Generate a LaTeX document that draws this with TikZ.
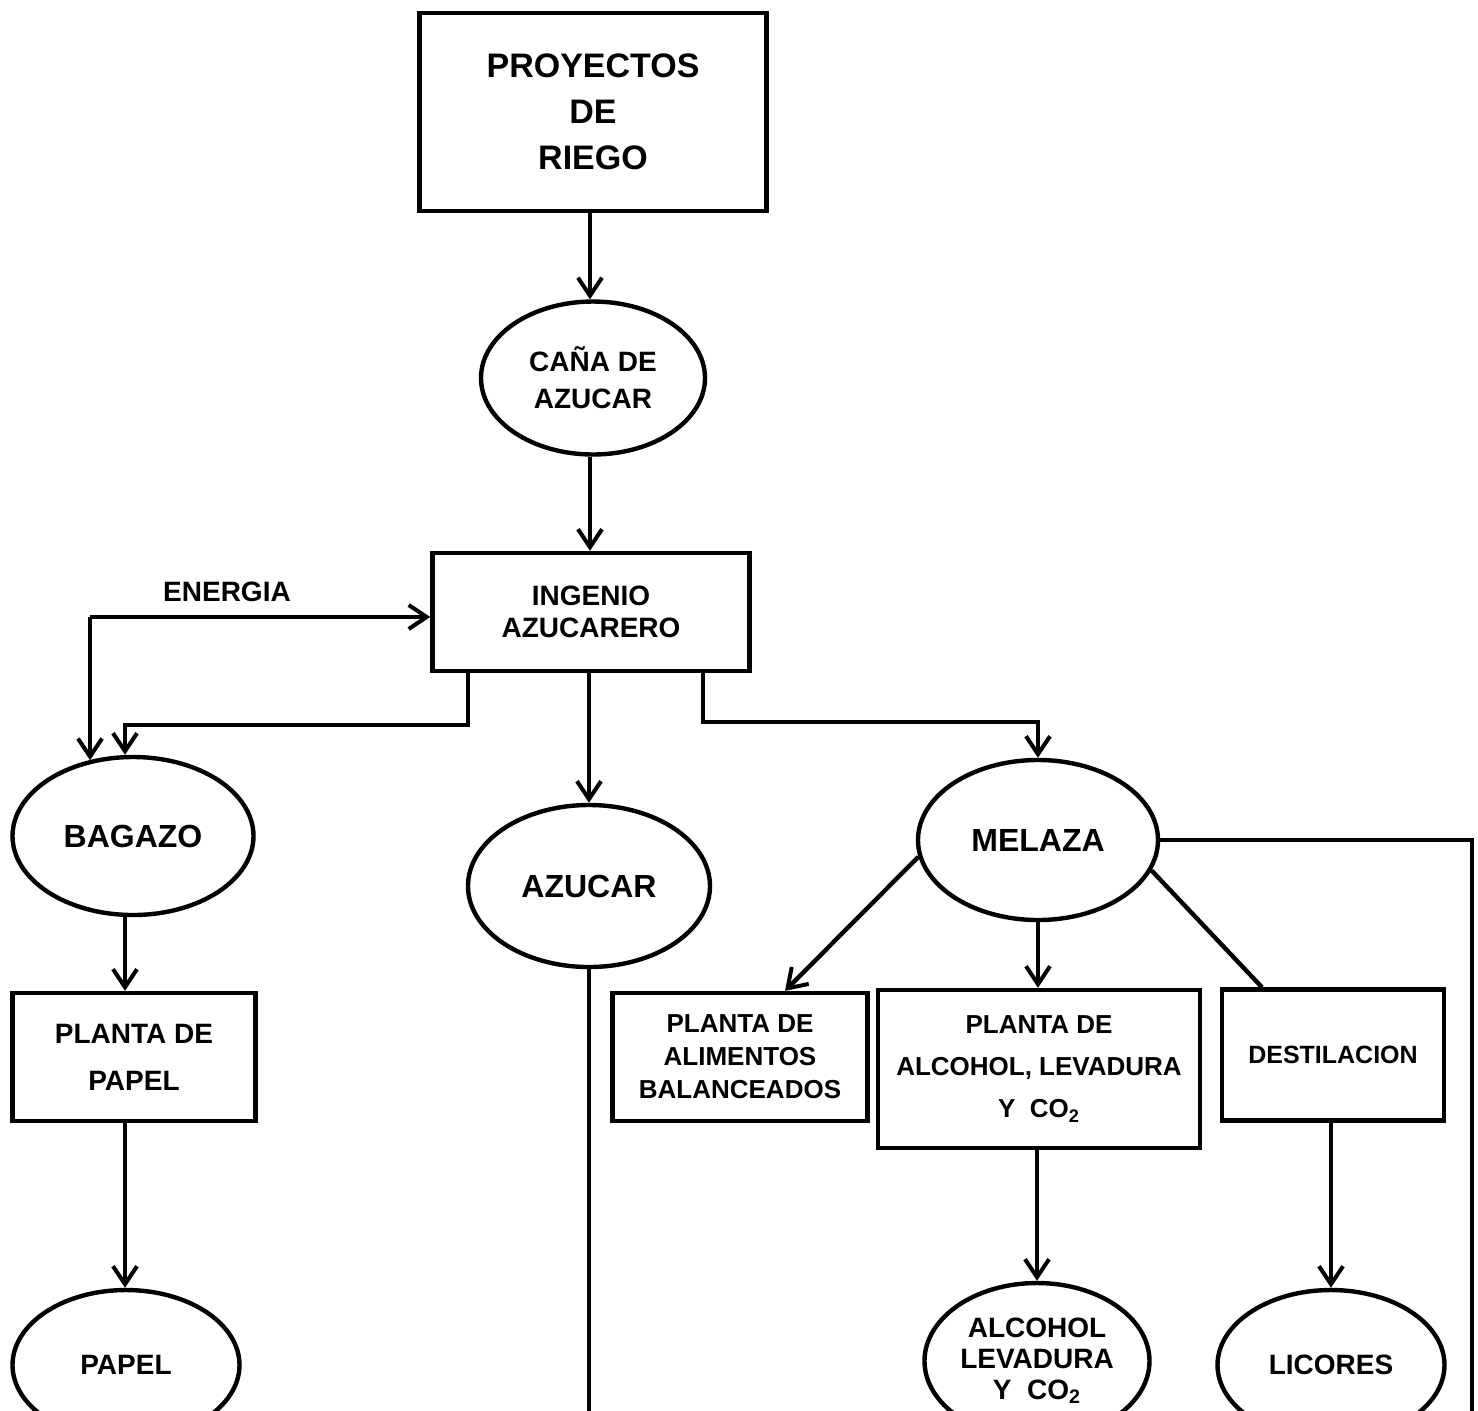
\documentclass[tikz,border=0pt]{standalone}
\usepackage{fontspec}
\setmainfont{Liberation Sans}
\usetikzlibrary{arrows.meta,shapes.geometric}
\begin{document}
\begin{tikzpicture}[x=0.5pt,y=-0.5pt,
  line width=2.2pt,
  arr/.style={-{Straight Barb[length=9pt,width=12pt,line width=2pt]}},
  boxnode/.style={draw,rectangle,inner sep=0pt,align=center,font=\bfseries},
  ellnode/.style={draw,ellipse,inner sep=0pt,align=center,font=\bfseries},
  lbl/.style={font=\bfseries}
]
\useasboundingbox (0,0) rectangle (1478,1410);
\clip (0,0) rectangle (1478,1410);
\fill[white] (0,0) rectangle (1478,1410);

% nodes
\node[boxnode,minimum width=173.5pt,minimum height=99pt,font=\bfseries\fontsize{17}{23}\selectfont] (riego) at (593,112) {PROYECTOS\\DE\\RIEGO};
\node[ellnode,minimum width=112pt,minimum height=76.5pt,font=\bfseries\fontsize{14}{18.5}\selectfont] (cana) at (593,378) {CAÑA DE\\AZUCAR};
\node[boxnode,minimum width=158.5pt,minimum height=59pt,font=\bfseries\fontsize{14}{16}\selectfont] (ingenio) at (591,612) {INGENIO\\AZUCARERO};
\node[lbl,font=\bfseries\fontsize{14}{16}\selectfont] (energia) at (227,592) {ENERGIA};
\node[ellnode,minimum width=120.5pt,minimum height=79pt,font=\bfseries\fontsize{16}{18}\selectfont] (bagazo) at (133,836) {BAGAZO};
\node[ellnode,minimum width=121pt,minimum height=81pt,font=\bfseries\fontsize{16}{18}\selectfont] (azucar) at (589,886) {AZUCAR};
\node[ellnode,minimum width=120pt,minimum height=80pt,font=\bfseries\fontsize{16}{18}\selectfont] (melaza) at (1038,840) {MELAZA};
\node[boxnode,minimum width=121.5pt,minimum height=64pt,font=\bfseries\fontsize{14}{23.5}\selectfont] (papelplant) at (134,1057) {PLANTA DE\\PAPEL};
\node[boxnode,minimum width=127.5pt,minimum height=64pt,font=\bfseries\fontsize{13}{16.5}\selectfont] (alimentos) at (740,1057) {PLANTA DE\\ALIMENTOS\\BALANCEADOS};
\node[boxnode,minimum width=161pt,minimum height=79pt,font=\bfseries\fontsize{13}{21}\selectfont] (alcoholplant) at (1039,1069) {PLANTA DE\\ALCOHOL, LEVADURA\\Y\ \ CO\textsubscript{2}};
\node[boxnode,minimum width=111pt,minimum height=65.5pt,font=\bfseries\fontsize{12.5}{15}\selectfont] (destil) at (1333,1055) {DESTILACION};
\node[ellnode,minimum width=113.5pt,minimum height=75pt,font=\bfseries\fontsize{14}{16}\selectfont] (papel) at (126,1365) {PAPEL};
\node[ellnode,minimum width=112.5pt,minimum height=78pt,font=\bfseries\fontsize{14}{15.5}\selectfont] (alcohol) at (1037,1361) {ALCOHOL\\LEVADURA\\Y\ \ CO\textsubscript{2}};
\node[ellnode,minimum width=113.5pt,minimum height=75pt,font=\bfseries\fontsize{14}{16}\selectfont] (licores) at (1331,1365) {LICORES};

% helper coordinates
\coordinate (eL) at (90,617);
\coordinate (bL) at (468,725);
\coordinate (bR) at (125,725);
\coordinate (mL) at (703,722);
\coordinate (aT) at (785,0);
\coordinate (dT) at (1262,0);
\coordinate (rX) at (1472,0);
\coordinate (rB) at (1472,1460);
\coordinate (azB) at (589,1460);

% connectors
\draw[arr] (riego.south -| 590,0) -- (cana.north -| 590,0);
\draw[arr] (cana.south -| 590,0) -- (ingenio.north -| 590,0);
\draw[arr] (eL) -- (eL -| ingenio.west);
\draw[arr] (eL) -- (bagazo.120 -| eL);
\draw[arr] (bL |- ingenio.south) -- (bL) -- (bR) -- (bR |- bagazo.north);
\draw[arr] (ingenio.south -| azucar.north) -- (azucar.north);
\draw[arr] (mL |- ingenio.south) -- (mL) -| (melaza.north);
\draw[arr] (bR |- bagazo.south) -- (bR |- papelplant.north);
\draw[arr] (bR |- papelplant.south) -- (bR |- papel.north);
\draw (azucar.south) -- (azB);
\draw[arr] (melaza.188) -- (aT |- alimentos.north);
\draw[arr] (melaza.south) -- (melaza.south |- alcoholplant.north);
\draw (melaza.-15) -- (dT |- destil.north);
\draw (melaza.east) -- (melaza.east -| rX) -- (rB);
\draw[arr] (alcoholplant.south -| alcohol.north) -- (alcohol.north);
\draw[arr] (destil.south -| licores.north) -- (licores.north);
\end{tikzpicture}
\end{document}
